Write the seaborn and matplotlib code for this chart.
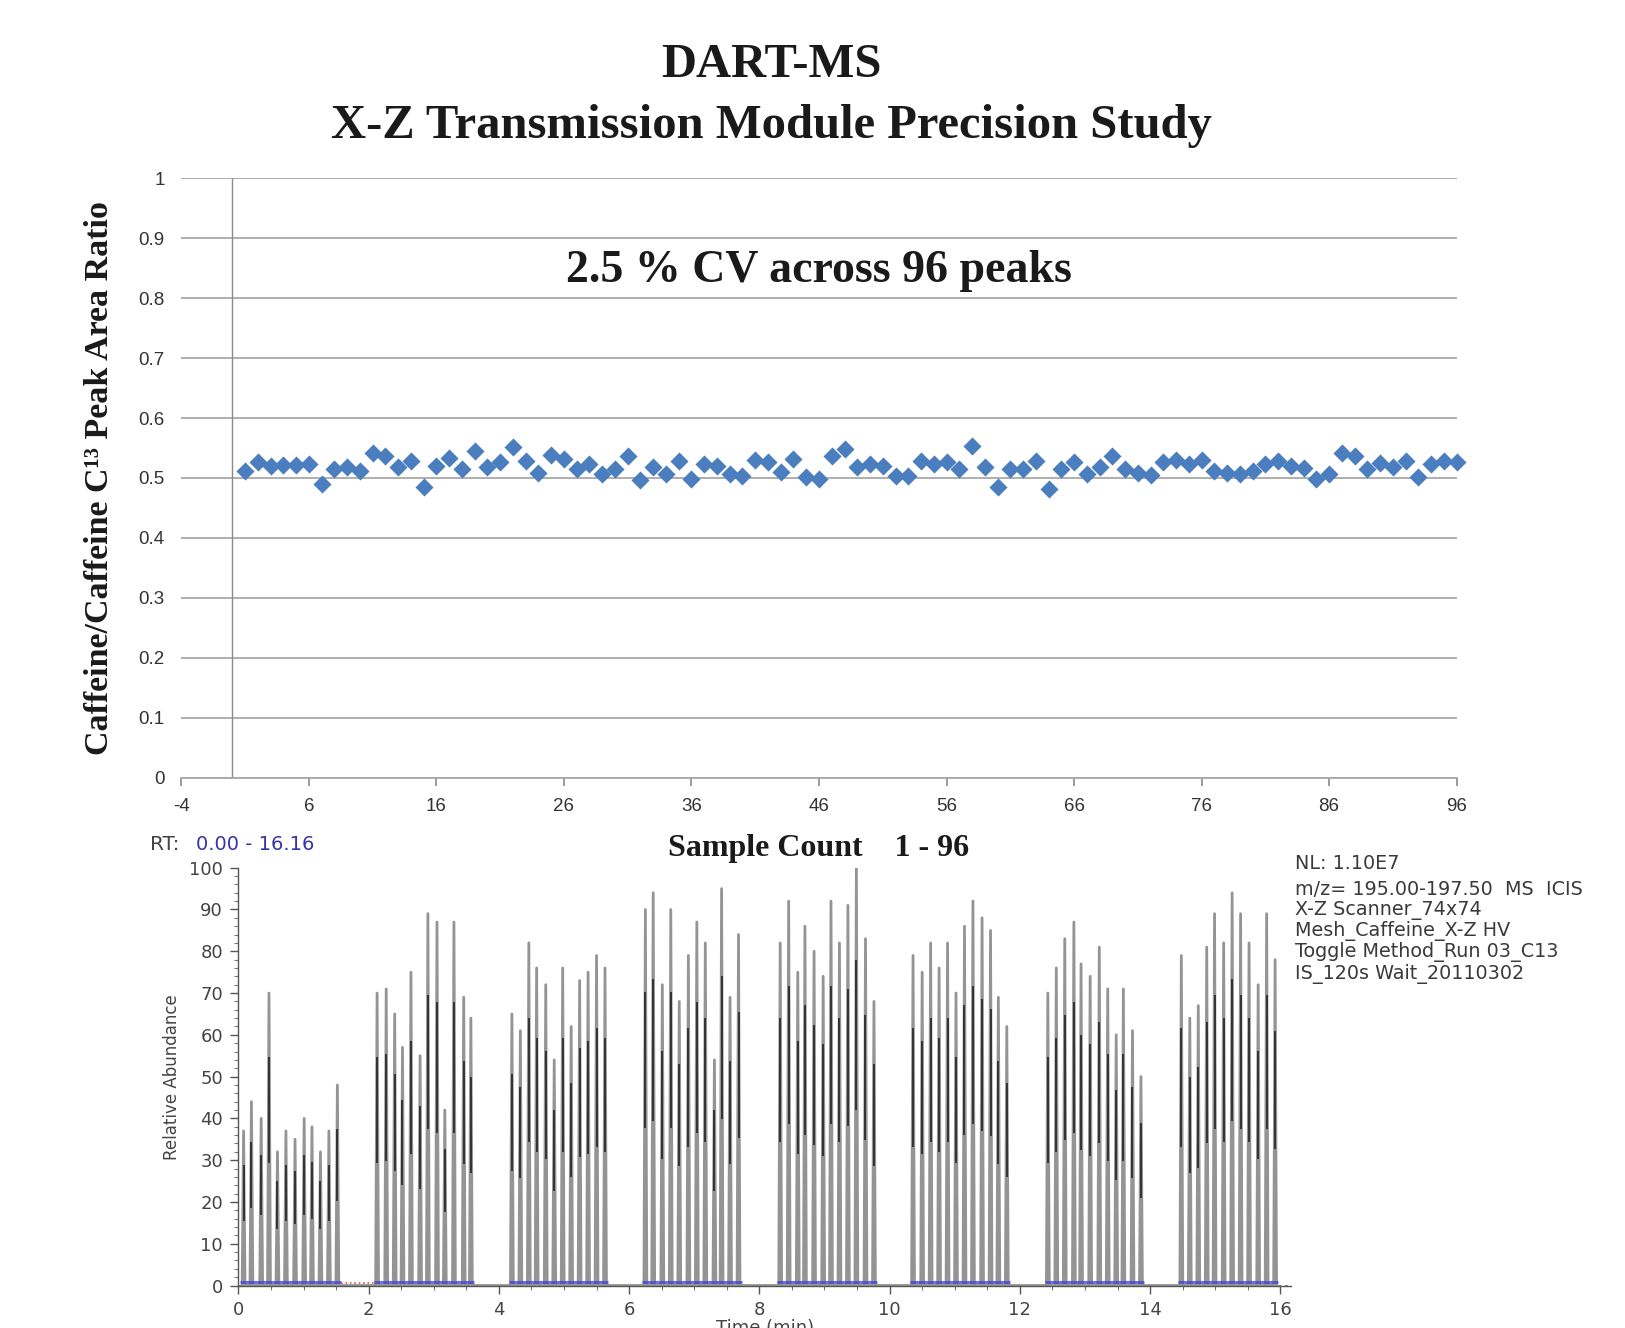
import numpy as np
import pandas as pd
import matplotlib
matplotlib.use('Agg')
import matplotlib.pyplot as plt
from matplotlib.ticker import MultipleLocator
import seaborn as sns

# ---- top panel: caffeine / C13 ratio for each of the 96 samples ----
sample_count = list(range(1, 97))
peak_area_ratio = [
    0.512, 0.527, 0.520, 0.522, 0.522, 0.524, 0.490, 0.515, 0.518, 0.512,
    0.541, 0.537, 0.518, 0.529, 0.485, 0.520, 0.533, 0.515, 0.545, 0.518,
    0.526, 0.551, 0.529, 0.508, 0.538, 0.531, 0.515, 0.523, 0.507, 0.515,
    0.536, 0.496, 0.518, 0.507, 0.529, 0.499, 0.523, 0.520, 0.507, 0.504,
    0.530, 0.527, 0.510, 0.531, 0.501, 0.498, 0.537, 0.548, 0.518, 0.523,
    0.520, 0.503, 0.504, 0.529, 0.523, 0.526, 0.515, 0.553, 0.518, 0.485,
    0.515, 0.515, 0.529, 0.482, 0.515, 0.526, 0.507, 0.518, 0.536, 0.515,
    0.509, 0.505, 0.527, 0.530, 0.523, 0.530, 0.512, 0.508, 0.507, 0.512,
    0.523, 0.529, 0.520, 0.516, 0.499, 0.507, 0.542, 0.537, 0.515, 0.525,
    0.518, 0.529, 0.501, 0.523, 0.529, 0.526,
]
top_xticks = [-4, 6, 16, 26, 36, 46, 56, 66, 76, 86, 96]
top_yticks = [0, 0.1, 0.2, 0.3, 0.4, 0.5, 0.6, 0.7, 0.8, 0.9, 1]
top_ytick_labels = ['0', '0.1', '0.2', '0.3', '0.4', '0.5', '0.6', '0.7', '0.8', '0.9', '1']

# ---- bottom panel: chromatogram, 8 runs of 12 peaks (apex time, rel. abundance) ----
peak_times = [
    [0.08, 0.20, 0.35, 0.47, 0.60, 0.73, 0.87, 1.01, 1.13, 1.26, 1.39, 1.52],
    [2.13, 2.27, 2.40, 2.52, 2.65, 2.79, 2.91, 3.05, 3.17, 3.31, 3.46, 3.57],
    [4.20, 4.33, 4.46, 4.58, 4.72, 4.85, 4.98, 5.11, 5.24, 5.37, 5.50, 5.63],
    [6.25, 6.37, 6.51, 6.64, 6.77, 6.91, 7.04, 7.17, 7.31, 7.42, 7.55, 7.68],
    [8.32, 8.45, 8.59, 8.70, 8.84, 8.98, 9.10, 9.23, 9.36, 9.49, 9.63, 9.76],
    [10.36, 10.50, 10.63, 10.76, 10.89, 11.02, 11.15, 11.28, 11.42, 11.55, 11.67, 11.80],
    [12.43, 12.56, 12.69, 12.83, 12.94, 13.08, 13.22, 13.35, 13.48, 13.59, 13.73, 13.86],
    [14.48, 14.61, 14.74, 14.87, 14.99, 15.13, 15.26, 15.39, 15.52, 15.66, 15.79, 15.92],
]
peak_heights = [
    [37, 44, 40, 70, 32, 37, 35, 40, 38, 32, 37, 48],
    [70, 71, 65, 57, 75, 55, 89, 87, 42, 87, 69, 64],
    [65, 61, 82, 76, 72, 54, 76, 62, 73, 75, 79, 76],
    [90, 94, 72, 90, 68, 79, 87, 82, 54, 95, 69, 84],
    [82, 92, 75, 86, 80, 74, 92, 82, 91, 100, 83, 68],
    [79, 75, 82, 76, 82, 70, 86, 92, 88, 85, 69, 62],
    [70, 76, 83, 87, 77, 74, 81, 71, 60, 71, 61, 50],
    [79, 64, 67, 81, 89, 82, 94, 89, 82, 72, 89, 78],
]
rt_range = (0.00, 16.16)
info_lines = [
    'NL: 1.10E7',
    'm/z= 195.00-197.50  MS  ICIS',
    'X-Z Scanner_74x74',
    'Mesh_Caffeine_X-Z HV',
    'Toggle Method_Run 03_C13',
    'IS_120s Wait_20110302',
]

SERIF = ['Liberation Serif', 'DejaVu Serif']
SANS = ['Liberation Sans', 'DejaVu Sans']

sns.set_theme(style='white')
plt.rcParams['font.family'] = SANS
plt.rcParams['axes.unicode_minus'] = False

fig = plt.figure(figsize=(16.25, 13.28), dpi=100)

fig.text(0.475, 0.951, 'DART-MS', ha='center', va='center',
         fontsize=35, fontweight='bold', family=SERIF, color='#1a1a1a')
fig.text(0.475, 0.905, 'X-Z Transmission Module Precision Study', ha='center',
         va='center', fontsize=35, fontweight='bold', family=SERIF, color='#1a1a1a')

# top scatter
ax1 = fig.add_axes([0.1116, 0.4145, 0.7848, 0.4512])
sns.scatterplot(x=sample_count, y=peak_area_ratio, marker='D', s=85,
                color='#4a7ebf', linewidth=0, ax=ax1, zorder=3, clip_on=False)
ax1.set_xlim(-4, 96)
ax1.set_ylim(0, 1)
ax1.set_xticks(top_xticks)
ax1.set_yticks(top_yticks)
ax1.set_yticklabels(top_ytick_labels)
ax1.grid(axis='y', color='#a8a8a8', linewidth=1.3)
ax1.grid(axis='x', visible=False)
ax1.axvline(0, color='#8a8a8a', linewidth=1.0)
for side in ['top', 'right', 'left']:
    ax1.spines[side].set_visible(False)
ax1.spines['bottom'].set_color('#a8a8a8')
ax1.spines['bottom'].set_linewidth(1.3)
ax1.tick_params(axis='x', direction='out', length=6, width=1.2, color='#8a8a8a',
                labelsize=13.5, pad=9, labelcolor='#333333', bottom=True)
ax1.tick_params(axis='y', length=0, labelsize=13.5, pad=12, labelcolor='#333333')
ax1.set_xlabel('')
ax1.set_ylabel('')
ax1.text(0.5, 0.846, '2.5 % CV across 96 peaks', transform=ax1.transAxes,
         ha='center', va='center', fontsize=33, fontweight='bold', family=SERIF,
         color='#1a1a1a')
fig.text(0.061, 0.640, 'Caffeine/Caffeine C\u00b9\u00b3 Peak Area Ratio', rotation=90,
         ha='center', va='center', fontsize=24.5, fontweight='bold', family=SERIF,
         color='#1a1a1a')
fig.text(0.504, 0.361, 'Sample Count    1 - 96', ha='center', va='center',
         fontsize=23, fontweight='bold', family=SERIF, color='#1a1a1a')

# bottom chromatogram
half_w = 0.022
rows = []
for times, heights in zip(peak_times, peak_heights):
    for t, h in zip(times, heights):
        rows += [(t - half_w, 0.0), (t, h), (t + half_w, 0.0)]
trace = pd.DataFrame(rows, columns=['time', 'abundance'])

ax2 = fig.add_axes([0.1467, 0.032, 0.6476, 0.3146])
ax2.plot([rt_range[0], rt_range[1]], [0, 0], color='#777777', linewidth=1.2,
         linestyle=(0, (2, 2)), zorder=1)
sns.lineplot(data=trace, x='time', y='abundance', sort=False, estimator=None,
             color='#949494', linewidth=2.0, ax=ax2, zorder=2)
all_t = np.concatenate(peak_times)
all_h = np.concatenate(peak_heights).astype(float)
ax2.vlines(all_t, all_h * 0.42, all_h * 0.78, color='#222222', linewidth=1.2, zorder=3)
for times in peak_times:
    ax2.plot([times[0] - 0.05, times[-1] + 0.05], [0.8, 0.8], color='#4040d8',
             linewidth=2.2, alpha=0.75, zorder=4, solid_capstyle='butt')
ax2.plot([peak_times[0][-1] + 0.05, peak_times[1][0] - 0.05], [0.6, 0.6],
         color='#e05050', linewidth=1.2, linestyle=':', zorder=4)

ax2.set_xlim(*rt_range)
ax2.set_ylim(0, 100)
ax2.xaxis.set_major_locator(MultipleLocator(2))
ax2.xaxis.set_minor_locator(MultipleLocator(0.5))
ax2.yaxis.set_major_locator(MultipleLocator(10))
ax2.yaxis.set_minor_locator(MultipleLocator(2))
for side in ['top', 'right']:
    ax2.spines[side].set_visible(False)
for side in ['left', 'bottom']:
    ax2.spines[side].set_color('#555555')
    ax2.spines[side].set_linewidth(1.0)
ax2.tick_params(which='major', direction='out', length=6, width=1, color='#555555',
                labelsize=13, labelcolor='#444444', pad=5, left=True, bottom=True)
ax2.tick_params(which='minor', direction='out', length=3, width=0.8, color='#777777',
                left=True, bottom=True)
for lab in ax2.get_xticklabels() + ax2.get_yticklabels():
    lab.set_family(['DejaVu Sans'])
ax2.set_ylabel('')
# the reference crops this label at the bottom edge of the slide
ax2.set_xlabel('Time (min)', fontsize=13, color='#444444', family=['DejaVu Sans'])
ax2.xaxis.set_label_coords(0.5, -0.080)
ax2.xaxis.label.set_va('top')

fig.text(0.106, 0.189, 'Relative Abundance', rotation=90, ha='center', va='center',
         fontsize=12, color='#444444', family=['DejaVu Sans'])
fig.text(0.092, 0.364, 'RT:', ha='left', va='center', fontsize=14.5,
         color='#444444', family=['DejaVu Sans'])
fig.text(0.1205, 0.364, '%.2f - %.2f' % rt_range, ha='left', va='center', fontsize=14,
         color='#3434a8', family=['DejaVu Sans'])

info_y = [0.3497, 0.3302, 0.3144, 0.2986, 0.2828, 0.2662]
for line, yy in zip(info_lines, info_y):
    fig.text(0.797, yy, line, ha='left', va='center', fontsize=13.8,
             color='#3a3a3a', family=['DejaVu Sans'])

fig.savefig('out.png', dpi=100, facecolor='white')
